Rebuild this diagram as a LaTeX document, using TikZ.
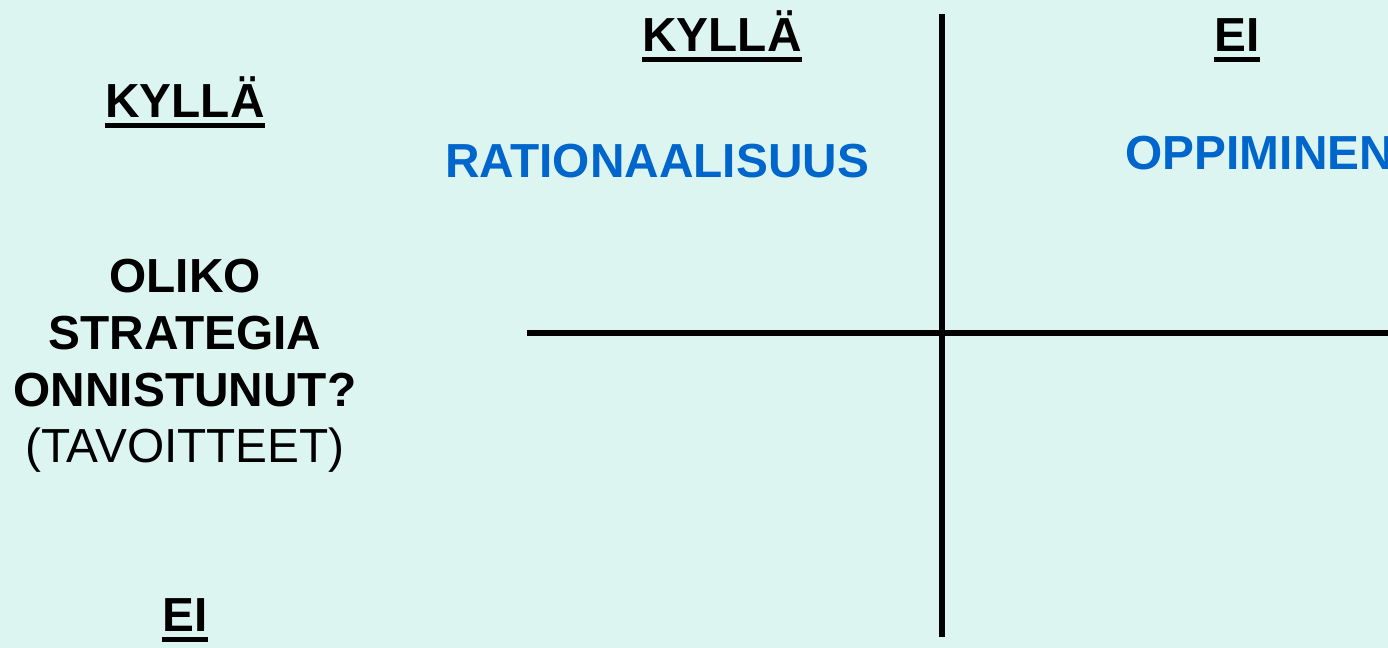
\documentclass[tikz,border=0pt]{standalone}
\usepackage{fontspec}
\setmainfont{Liberation Sans}
\usepackage{xcolor}
\usetikzlibrary{positioning,calc}
\definecolor{bgmint}{HTML}{DDF5F1}
\definecolor{qblue}{HTML}{0066CC}

\begin{document}
\begin{tikzpicture}[
    head/.style={anchor=base, inner sep=0pt, font=\fontsize{13.6}{16}\selectfont\bfseries},
    quad/.style={anchor=base, inner sep=0pt, font=\fontsize{13.6}{16}\selectfont\bfseries, color=qblue},
    axis/.style={line width=1.45pt, draw=black},
    uline/.style={line width=1.3pt, draw=black}
]
    % background, fixes the size
    \fill[bgmint] (0,0) rectangle (13.88,6.48);
    \useasboundingbox (0,0) rectangle (13.88,6.48);
    \clip (0,0) rectangle (13.88,6.48);

    % column and row headers
    \node[head] (colyes) at (7.22,5.96) {KYLLÄ};
    \node[head] (colno) at (12.37,5.96) {EI};
    \node[head] (rowyes) at (1.85,5.30) {KYLLÄ};
    \node[head] (rowno) at (1.85,0.16) {EI};

    \foreach \n in {colyes,colno,rowyes,rowno}
        \draw[uline] ([yshift=-2.1pt]\n.base west) -- ([yshift=-2.1pt]\n.base east);

    % question on the left
    \node[head] (q1) at (1.85,3.55) {OLIKO};
    \node[head] (q2) at (1.85,2.98) {STRATEGIA};
    \node[head] (q3) at (1.85,2.41) {ONNISTUNUT?};
    \node[head, font=\fontsize{13.6}{16}\selectfont] (q4) at (1.85,1.85) {(TAVOITTEET)};

    % quadrant labels
    \node[quad] (rat) at (6.57,4.70) {RATIONAALISUUS};
    \node[quad, anchor=base west] (opp) at (11.25,4.78) {OPPIMINEN};

    % the cross
    \coordinate (vtop) at (9.42,6.34);
    \coordinate (vbot) at (9.42,0.11);
    \coordinate (hleft) at (5.27,3.15);
    \coordinate (hright) at (13.88,3.15);
    \draw[axis] (vtop) -- (vbot);
    \draw[axis] (hleft) -- (hright);
\end{tikzpicture}
\end{document}
